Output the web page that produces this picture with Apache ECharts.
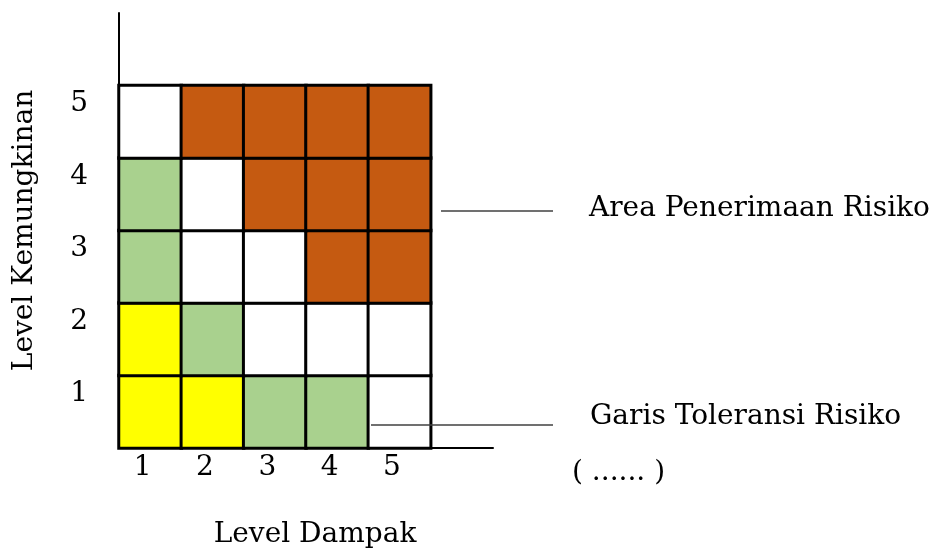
<!DOCTYPE html>
<html>
<head>
<meta charset="utf-8">
<script src="https://cdn.jsdelivr.net/npm/echarts@6/dist/echarts.min.js"></script>
<style>
  html, body { margin: 0; padding: 0; background: #fff; }
  #chart { width: 936px; height: 551px; }
</style>
</head>
<body>
<div id="chart"></div>
<script>
// dampak (impact) levels on x, kemungkinan (likelihood) levels on y
// last empty category only stretches the axis lines past the matrix
var dampakLevels = ['1', '2', '3', '4', '5', '']
var kemungkinanLevels = ['1', '2', '3', '4', '5', '']

// risk class of each cell, rows from level 1 (bottom) to level 5 (top)
// 0 = rendah (kuning), 1 = toleransi (hijau), 2 = sedang (putih), 3 = tinggi (coklat)
var matrixRow1 = [0, 0, 1, 1, 2]
var matrixRow2 = [0, 1, 2, 2, 2]
var matrixRow3 = [1, 2, 2, 3, 3]
var matrixRow4 = [1, 2, 3, 3, 3]
var matrixRow5 = [2, 3, 3, 3, 3]

var classColors = ['#FFFF00', '#A9D18E', '#FFFFFF', '#C55A11']

var serif = '"DejaVu Serif", "Liberation Serif", serif'

var cells = []
var rows = [matrixRow1, matrixRow2, matrixRow3, matrixRow4, matrixRow5]
rows.forEach(function(row, yi) {
  row.forEach(function(cls, xi) {
    cells.push([xi, yi, cls])
  })
})

var chart = echarts.init(document.getElementById('chart'))

chart.setOption({
  backgroundColor: '#fff',
  animation: false,
  grid: {
    left: 119,
    right: 443,
    top: 13,
    bottom: 103,
    outerBoundsMode: 'none'
  },
  visualMap: {
    type: 'piecewise',
    show: false,
    dimension: 2,
    pieces: classColors.map(function(c, i) {
      return { value: i, color: c }
    })
  },
  xAxis: {
    type: 'category',
    data: dampakLevels,
    name: 'Level Dampak',
    nameLocation: 'middle',
    nameGap: 73,
    nameTextStyle: {
      fontFamily: serif,
      fontSize: 28,
      color: '#000',
      padding: [0, 0, 0, 18]
    },
    axisLine: { lineStyle: { color: '#000', width: 2 } },
    axisTick: { show: false },
    axisLabel: {
      margin: 6,
      fontFamily: serif,
      fontSize: 28,
      color: '#000',
      padding: [0, 15, 0, 0]
    },
    splitLine: { show: false }
  },
  yAxis: {
    type: 'category',
    data: kemungkinanLevels,
    name: 'Level Kemungkinan',
    nameLocation: 'middle',
    nameRotate: 90,
    nameGap: 80,
    nameTextStyle: {
      fontFamily: serif,
      fontSize: 28,
      color: '#000'
    },
    axisLine: { lineStyle: { color: '#000', width: 2 } },
    axisTick: { show: false },
    axisLabel: {
      margin: 31,
      fontFamily: serif,
      fontSize: 28,
      color: '#000',
      verticalAlign: 'bottom',
      lineHeight: 36
    },
    splitLine: { show: false }
  },
  series: [{
    type: 'heatmap',
    data: cells,
    itemStyle: {
      borderColor: '#000',
      borderWidth: 3
    },
    emphasis: { disabled: true }
  }],
  graphic: [
    {
      type: 'line',
      z: 100,
      shape: { x1: 441, y1: 211, x2: 553, y2: 211 },
      style: { stroke: '#404040', lineWidth: 1.5 }
    },
    {
      type: 'line',
      z: 100,
      shape: { x1: 371, y1: 425, x2: 553, y2: 425 },
      style: { stroke: '#404040', lineWidth: 1.5 }
    },
    {
      type: 'text',
      z: 100,
      left: 589,
      top: 195,
      style: { text: 'Area Penerimaan Risiko', font: '28px ' + serif, fill: '#000' }
    },
    {
      type: 'text',
      z: 100,
      left: 590,
      top: 403,
      style: { text: 'Garis Toleransi Risiko', font: '28px ' + serif, fill: '#000' }
    },
    {
      type: 'text',
      z: 100,
      left: 572,
      top: 459,
      style: { text: '( ...... )', font: '28px ' + serif, fill: '#000' }
    }
  ]
})
</script>
</body>
</html>
